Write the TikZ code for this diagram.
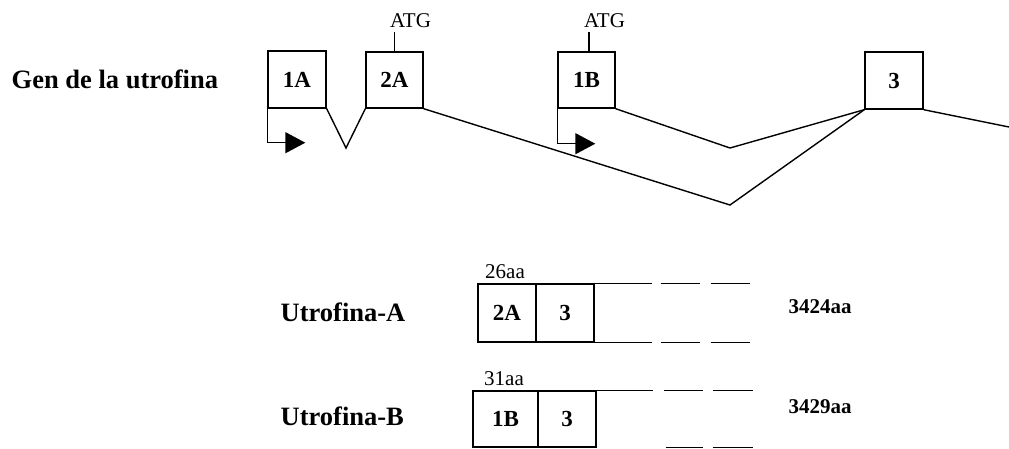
\documentclass[tikz,border=0pt]{standalone}
\usepackage{fontspec}
\setmainfont{Liberation Serif}
\usetikzlibrary{arrows.meta,calc}
\begin{document}
\begin{tikzpicture}[x=1pt,y=-1pt, line width=1.4pt,
  exon/.style={draw, line width=1.4pt, inner sep=0pt, font=\fontsize{23}{23}\selectfont\bfseries},
  bigtxt/.style={inner sep=0pt, font=\fontsize{26.5}{30}\selectfont\bfseries},
  smalltxt/.style={inner sep=0pt, font=\fontsize{21}{24}\selectfont},
  smallbold/.style={inner sep=0pt, font=\fontsize{21}{24}\selectfont\bfseries},
  startarrow/.style={-{Triangle[length=20pt,width=21pt]}},
  dashA/.style={dash pattern=on 57pt off 9pt on 39pt off 11pt on 39pt},
  dashB/.style={dash pattern=on 56pt off 11pt on 39pt off 10pt on 40pt},
  dashC/.style={dash pattern=on 37pt off 10pt on 40pt}]
\useasboundingbox (0,0) rectangle (1009,448);

% title
\node[bigtxt, anchor=base west] (title) at (11,88) {Gen de la utrofina};

% gene exons
\node[exon, minimum width=58pt, minimum height=57pt] (g1A) at (297,79.5) {1A};
\node[exon, minimum width=57pt, minimum height=56pt] (g2A) at (394.5,80) {2A};
\node[exon, minimum width=57pt, minimum height=56pt] (g1B) at (586.5,80) {1B};
\node[exon, minimum width=58pt, minimum height=57pt] (g3) at (894,80.5) {3};

% ATG labels
\node[smalltxt, anchor=base] (atg1) at (410.5,27) {ATG};
\node[smalltxt, anchor=base] (atg2) at (604.5,27) {ATG};
\draw (g2A.north) -- ++(0,-19);
\draw ($(g1B.north)+(2.5,0)$) -- ++(0,-19);

% promoter arrows
\draw[startarrow] (g1A.south west) -- ++(0,34) -- ++(38,0);
\draw[startarrow] (g1B.south west) -- ++(0,35) -- ++(38,0);

% splicing connectors
\coordinate (v1) at (346,148);
\coordinate (v2) at (730,205);
\coordinate (v3) at (730,148);
\coordinate (tail) at (1009,127);
\draw (g1A.south east) -- (v1) -- (g2A.south west);
\draw (g2A.south east) -- (v2) -- (g3.south west);
\draw (g1B.south east) -- (v3) -- (g3.south west);
\draw (g3.south east) -- (tail);

% Utrofina-A
\node[bigtxt, anchor=base west] (utrA) at (280,321) {Utrofina-A};
\node[exon, minimum width=58pt, minimum height=58pt] (a2A) at (507,313) {2A};
\node[exon, minimum width=58pt, minimum height=58pt] (a3) at (565,313) {3};
\node[smalltxt, anchor=base] (aa26) at (505,278) {26aa};
\draw[dashA] (a3.north east) -- ++(155,0);
\draw[dashA] (a3.south east) -- ++(155,0);
\node[smallbold, anchor=base west] (lenA) at (788,313) {3424aa};

% Utrofina-B
\node[bigtxt, anchor=base west] (utrB) at (280,425) {Utrofina-B};
\node[exon, minimum width=65pt, minimum height=56pt] (b1B) at (505.5,419) {1B};
\node[exon, minimum width=58pt, minimum height=56pt] (b3) at (567,419) {3};
\node[smalltxt, anchor=base] (aa31) at (504,385) {31aa};
\draw[dashB] (b3.north east) -- ++(156,0);
\draw[dashC] ($(b3.south east)+(69,0)$) -- ++(87,0);
\node[smallbold, anchor=base west] (lenB) at (788,413) {3429aa};
\end{tikzpicture}
\end{document}
